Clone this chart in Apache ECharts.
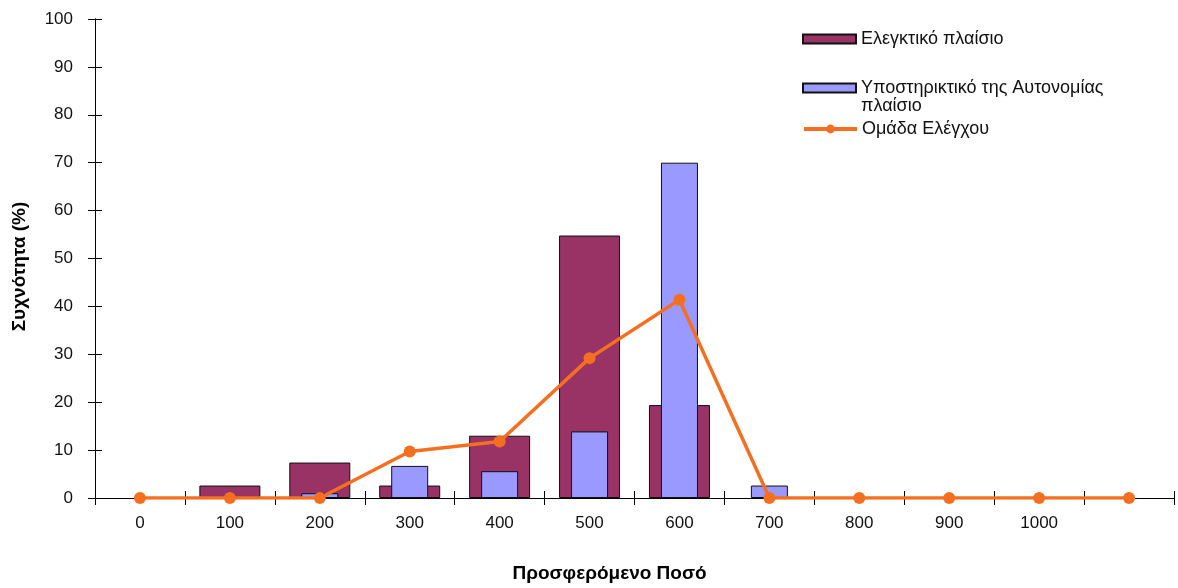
<!DOCTYPE html>
<html>
<head>
<meta charset="utf-8">
<script src="https://cdn.jsdelivr.net/npm/echarts@6/dist/echarts.min.js"></script>
<style>
  html, body { margin: 0; padding: 0; background: #fff; }
  #chart { width: 1178px; height: 588px; }
</style>
</head>
<body>
<div id="chart"></div>
<script>
// Offered amount categories (last slot has no label)
const categories = ['0', '100', '200', '300', '400', '500', '600', '700', '800', '900', '1000', ''];
// Frequency (%) per group
const controllingValues = [null, 2.6, 7.4, 2.6, 13.0, 54.8, 19.4, null, null, null, null, null];
const autonomyValues = [null, null, 1.0, 6.7, 5.6, 13.9, 70.0, 2.6, null, null, null, null];
const controlGroupValues = [0, 0, 0, 9.7, 11.8, 29.2, 41.4, 0, 0, 0, 0, 0];
const yTicks = { min: 0, max: 100, interval: 10 };

const seriesNames = ['Ελεγκτικό πλαίσιο', 'Υποστηρικτικό της Αυτονομίας πλαίσιο', 'Ομάδα Ελέγχου'];

const FONT = "'Liberation Sans', Arial, sans-serif";
const ORANGE = '#f47020';
const chart = echarts.init(document.getElementById('chart'), null, { renderer: 'canvas' });

const axisLineStyle = { color: '#000', width: 1 };

const baseX = {
  type: 'category',
  data: categories,
  position: 'bottom',
  boundaryGap: true,
  axisLine: { show: true, lineStyle: axisLineStyle },
  splitLine: { show: false }
};

const legendText = { fontFamily: FONT, fontSize: 18, color: '#111', lineHeight: 18 };

const option = {
  backgroundColor: '#fff',
  animation: false,
  grid: { left: 95, right: 4, top: 19, bottom: 90, containLabel: false, outerBoundsMode: 'none' },
  legend: [
    {
      data: [{ name: seriesNames[0], icon: 'rect' }], left: 802, top: 30, padding: 0,
      itemWidth: 53, itemHeight: 9, selectedMode: false,
      textStyle: legendText
    },
    {
      data: [{ name: seriesNames[1], icon: 'rect' }], left: 802, top: 61, padding: 0,
      itemWidth: 53, itemHeight: 9, selectedMode: false,
      // first text line sits level with the icon, the second wraps below it
      formatter: () => ' \nΥποστηρικτικό της Αυτονομίας\nπλαίσιο',
      textStyle: legendText
    },
    {
      data: [seriesNames[2]], left: 802, top: 120, padding: 0,
      itemWidth: 53, itemHeight: 11, selectedMode: false,
      lineStyle: { width: 4 },
      textStyle: legendText
    }
  ],
  xAxis: [
    Object.assign({}, baseX, {
      name: 'Προσφερόμενο Ποσό',
      nameLocation: 'middle',
      nameGap: 66,
      nameTextStyle: { fontFamily: FONT, fontWeight: 'bold', fontSize: 19, color: '#000', padding: [0, 50, 0, 0] },
      axisTick: { show: true, length: 7, inside: false, lineStyle: { color: '#000' } },
      axisLabel: { show: true, margin: 17, fontFamily: FONT, fontSize: 17, color: '#111' }
    }),
    Object.assign({}, baseX, {
      axisTick: { show: true, length: 7, inside: true, lineStyle: { color: '#000' } },
      axisLabel: { show: false }
    })
  ],
  yAxis: [
    {
      type: 'value', position: 'left',
      min: yTicks.min, max: yTicks.max, interval: yTicks.interval,
      name: 'Συχνότητα (%)',
      nameLocation: 'middle',
      nameGap: 66,
      nameRotate: 90,
      nameTextStyle: { fontFamily: FONT, fontWeight: 'bold', fontSize: 19, color: '#000', padding: [0, 16, 0, 0] },
      axisLine: { show: true, lineStyle: axisLineStyle },
      axisTick: { show: true, length: 7, lineStyle: { color: '#000' } },
      axisLabel: { margin: 22, fontFamily: FONT, fontSize: 17, color: '#111' },
      splitLine: { show: false }
    },
    {
      type: 'value', position: 'left',
      min: yTicks.min, max: yTicks.max, interval: yTicks.interval,
      axisLine: { show: true, lineStyle: axisLineStyle },
      axisTick: { show: true, inside: true, length: 7, lineStyle: { color: '#000' } },
      axisLabel: { show: false },
      splitLine: { show: false }
    }
  ],
  series: [
    {
      name: seriesNames[0], type: 'bar', xAxisIndex: 0, yAxisIndex: 0,
      data: controllingValues, barWidth: 61,
      itemStyle: { color: '#993366', borderColor: '#111', borderWidth: 1 }
    },
    {
      name: seriesNames[1], type: 'bar', xAxisIndex: 1, yAxisIndex: 0,
      data: autonomyValues, barWidth: 37,
      itemStyle: { color: '#9999ff', borderColor: '#111', borderWidth: 1 }
    },
    {
      name: seriesNames[2], type: 'line', xAxisIndex: 0, yAxisIndex: 0,
      data: controlGroupValues,
      symbol: 'circle', symbolSize: 12, showAllSymbol: true,
      lineStyle: { color: ORANGE, width: 3.5 },
      itemStyle: { color: ORANGE },
      z: 5
    }
  ]
};

chart.setOption(option);
</script>
</body>
</html>
